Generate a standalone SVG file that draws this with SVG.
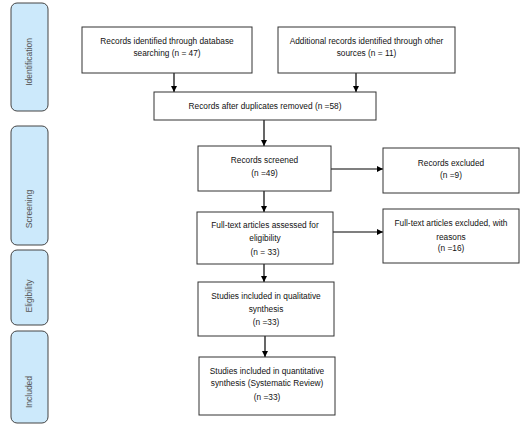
<svg xmlns="http://www.w3.org/2000/svg" width="521" height="426" viewBox="0 0 521 426">
<defs>
<marker id="ah" markerWidth="6" markerHeight="6" refX="6" refY="3" orient="auto" markerUnits="userSpaceOnUse">
<path d="M0,0 L6,3 L0,6 Z" fill="#000"/>
</marker>
<style>
.box{fill:#fff;stroke:#333;stroke-width:1}
.side{fill:#cce9fb;stroke:#444;stroke-width:1}
.t{font-family:"Liberation Sans",Arial,sans-serif;font-size:8.3px;fill:#111;text-anchor:middle}
.st{font-family:"Liberation Sans",Arial,sans-serif;font-size:8.5px;fill:#555;text-anchor:middle}
.c{stroke:#000;stroke-width:1.2;fill:none;marker-end:url(#ah)}
</style>
</defs>
<rect width="521" height="426" fill="#fff"/>
<g id="side-identification"><rect class="side" x="11" y="3" width="37" height="108" rx="6"/><text class="st" transform="translate(32,62) rotate(-90)">Identification</text></g>
<g id="side-screening"><rect class="side" x="11" y="126" width="37" height="119" rx="6"/><text class="st" transform="translate(32,209) rotate(-90)">Screening</text></g>
<g id="side-eligibility"><rect class="side" x="11" y="250" width="37" height="75" rx="6"/><text class="st" transform="translate(32,296) rotate(-90)">Eligibility</text></g>
<g id="side-included"><rect class="side" x="11" y="331" width="37" height="92" rx="6"/><text class="st" transform="translate(32,392) rotate(-90)">Included</text></g>

<g id="connectors">
<line class="c" x1="174" y1="73" x2="174" y2="92"/>
<line class="c" x1="356" y1="73" x2="356" y2="92"/>
<line class="c" x1="264" y1="120" x2="264" y2="146"/>
<line class="c" x1="264" y1="191" x2="264" y2="212"/>
<line class="c" x1="331" y1="169" x2="383" y2="169"/>
<line class="c" x1="333" y1="232" x2="383" y2="232"/>
<line class="c" x1="264" y1="264" x2="264" y2="282"/>
<line class="c" x1="265" y1="336" x2="265" y2="357"/>
</g>

<g id="db-records"><rect class="box" x="82" y="27" width="170" height="46"/><text class="t" x="167" y="44">Records identified through database</text><text class="t" x="167" y="56">searching (n = 47)</text></g>
<g id="other-records"><rect class="box" x="278" y="27" width="177" height="46"/><text class="t" x="366.5" y="44">Additional records identified through other</text><text class="t" x="366.5" y="56">sources (n = 11)</text></g>
<g id="dedup"><rect class="box" x="154" y="92" width="222" height="28"/><text class="t" x="265" y="109">Records after duplicates removed (n =58)</text></g>
<g id="screened"><rect class="box" x="198" y="146" width="133" height="45"/><text class="t" x="264.5" y="163">Records screened</text><text class="t" x="264.5" y="176">(n =49)</text></g>
<g id="excluded"><rect class="box" x="383" y="148" width="136" height="45"/><text class="t" x="451" y="166">Records excluded</text><text class="t" x="451" y="178">(n =9)</text></g>
<g id="fulltext"><rect class="box" x="197" y="212" width="136" height="52"/><text class="t" x="265" y="228">Full-text articles assessed for</text><text class="t" x="265" y="241">eligibility</text><text class="t" x="265" y="254.5">(n = 33)</text></g>
<g id="fulltext-excluded"><rect class="box" x="383" y="209" width="136" height="54"/><text class="t" x="451" y="226">Full-text articles excluded, with</text><text class="t" x="451" y="240">reasons</text><text class="t" x="451" y="251">(n =16)</text></g>
<g id="qualitative"><rect class="box" x="198" y="282" width="136" height="54"/><text class="t" x="266" y="299">Studies included in qualitative</text><text class="t" x="266" y="312">synthesis</text><text class="t" x="266" y="325">(n =33)</text></g>
<g id="quantitative"><rect class="box" x="199" y="357" width="136" height="58"/><text class="t" x="267" y="374">Studies included in quantitative</text><text class="t" x="267" y="386">synthesis (Systematic Review)</text><text class="t" x="267" y="400">(n =33)</text></g>
</svg>
